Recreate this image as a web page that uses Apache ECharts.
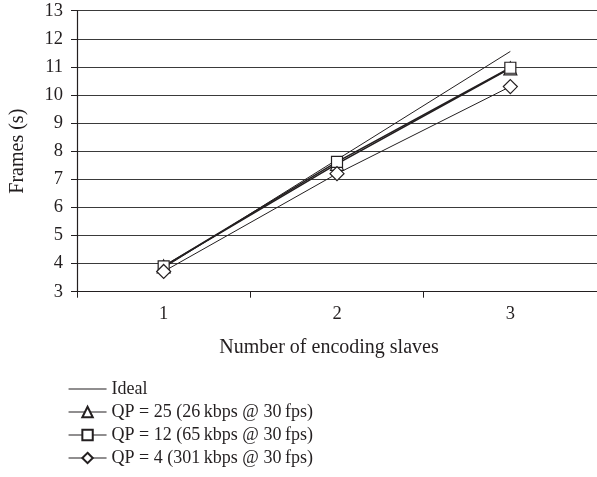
<!DOCTYPE html>
<html>
<head>
<meta charset="utf-8">
<script src="https://cdn.jsdelivr.net/npm/echarts@6/dist/echarts.min.js"></script>
<style>html,body{margin:0;padding:0;background:#fff}#c{width:597px;height:477px}</style>
</head>
<body>
<div id="c"></div>
<script>
var categories = ['1', '2', '3'];
var slaves = [1, 2, 3];
var ideal = [3.85, 7.7, 11.55];
var qp25 = [3.9, 7.55, 10.95];
var qp12 = [3.9, 7.62, 10.97];
var qp4 = [3.72, 7.2, 10.3];
var yTicks = {min: 3, max: 13, step: 1};
var names = ['Ideal', 'QP = 25 (26\u2009kbps @ 30\u2009fps)', 'QP = 12 (65\u2009kbps @ 30\u2009fps)', 'QP = 4 (301\u2009kbps @ 30\u2009fps)'];

function pairs(v) { return slaves.map(function (s, i) { return [s, v[i]]; }); }

var FONT = 'Liberation Serif';
var INK = '#231f20';
var chart = echarts.init(document.getElementById('c'), null, {renderer: 'canvas'});
function mk(name, vals, sym, size, w) {
  return {
    name: name, type: 'line', xAxisIndex: 1, data: pairs(vals),
    symbol: sym, symbolSize: size, showSymbol: sym !== 'none',
    lineStyle: {color: INK, width: w},
    itemStyle: {color: '#fff', borderColor: INK, borderWidth: 1.2},
    emphasis: {disabled: true}, animation: false, z: 3
  };
}
chart.setOption({
  backgroundColor: '#fff',
  animation: false,
  grid: {left: 76, right: 0, top: 10.7, bottom: 185.3, containLabel: false},
  legend: {
    orient: 'vertical', left: 63, top: 374, itemWidth: 38, itemHeight: 13, itemGap: 3,
    lineStyle: {width: 1.1},
    textStyle: {fontFamily: FONT, fontSize: 18, lineHeight: 20, color: INK, padding: [0, 0, 0, 0]},
    data: [
      {name: names[0], itemStyle: {color: 'transparent', borderColor: 'transparent'}},
      {name: names[1]}, {name: names[2]}, {name: names[3]}
    ],
    selectedMode: false
  },
  xAxis: [{
    type: 'category', data: categories, boundaryGap: true, position: 'bottom',
    axisLine: {lineStyle: {color: INK, width: 1.2}},
    axisTick: {show: true, length: 6, lineStyle: {color: INK}},
    axisLabel: {fontFamily: FONT, fontSize: 18.5, color: INK, margin: 13},
    name: 'Number of encoding slaves', nameLocation: 'middle', nameGap: 46,
    nameTextStyle: {fontFamily: FONT, fontSize: 20, color: INK, padding: [0, 16, 0, 0]},
    splitLine: {show: false}
  }, {
    type: 'value', min: 0.5, max: 3.5, show: false
  }],
  yAxis: {
    type: 'value', min: yTicks.min, max: yTicks.max, interval: yTicks.step,
    axisLine: {show: true, lineStyle: {color: INK, width: 1.2}},
    axisTick: {show: true, length: 6, lineStyle: {color: INK}},
    axisLabel: {fontFamily: FONT, fontSize: 18.5, color: INK, margin: 14},
    splitLine: {show: true, lineStyle: {color: '#3a3a3a', width: 1}},
    name: 'Frames (s)', nameLocation: 'middle', nameGap: 49, nameRotate: 90,
    nameTextStyle: {fontFamily: FONT, fontSize: 20, color: INK}
  },
  series: [
    mk(names[0], ideal, 'none', 0, 1),
    mk(names[1], qp25, 'triangle', 13, 1.6),
    mk(names[2], qp12, 'rect', 11, 1.6),
    mk(names[3], qp4, 'diamond', 14, 1)
  ]
});
</script>
</body>
</html>
